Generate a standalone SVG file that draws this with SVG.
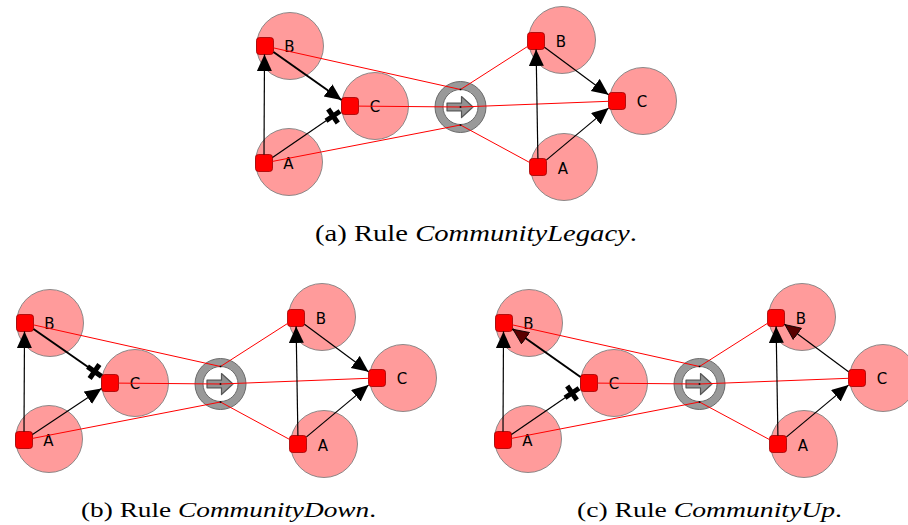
<svg xmlns="http://www.w3.org/2000/svg" width="908" height="525" viewBox="0 0 908 525">
<style>
.comm{fill:#ff9b9b;stroke:#808080;stroke-width:0.9}
.port{fill:#ff0000;stroke:#a00000;stroke-width:0.8}
.lbl{font-family:"DejaVu Sans",Verdana,sans-serif;font-size:15px;fill:#000;text-anchor:middle}
.ring{fill:#999999;stroke:#6a6a6a;stroke-width:1}
.hole{fill:#fff;stroke:#6a6a6a;stroke-width:1}
.rarrow{fill:#929292;stroke:#555;stroke-width:1.2;stroke-linejoin:round}
.dot{fill:#000}
.map{stroke:#ff0000;stroke-width:1;fill:none}
.e{stroke:#000;stroke-width:1.2;fill:none}
.thick{stroke-width:2}
.arr{marker-end:url(#arrow)}
.arrd{marker-end:url(#arrowDark)}
.neg{marker-end:url(#cross)}
.cap{font-family:"Liberation Serif","Times New Roman",serif;fill:#000}
</style>
<defs>
<marker id="arrow" markerUnits="userSpaceOnUse" markerWidth="17" markerHeight="16" viewBox="0 0 17 16" refX="16.5" refY="7.5" orient="auto">
<path d="M0,0 L16.5,7.5 L0,15 z" fill="#000"/>
</marker>
<marker id="arrowDark" markerUnits="userSpaceOnUse" markerWidth="17" markerHeight="16" viewBox="0 0 17 16" refX="16.5" refY="7.5" orient="auto">
<path d="M0.5,0.5 L16,7.5 L0.5,14.5 z" fill="#5a0000" stroke="#000" stroke-width="0.8"/>
</marker>
<marker id="cross" markerUnits="userSpaceOnUse" markerWidth="26" markerHeight="26" viewBox="-13 -13 26 26" refX="0" refY="0" orient="auto" overflow="visible">
<path d="M-8.5,0 L8.5,0 M0,-8.5 L0,8.5" stroke="#000" stroke-width="5" fill="none"/>
</marker>
</defs>
<rect width="908" height="525" fill="#fff"/>

<!-- Panel (a) -->
<g id="panel-a">
<g id="a-L-B" class="node"><circle class="comm" cx="290" cy="46" r="33.5"/><rect class="port" x="256.5" y="37.5" width="17" height="17" rx="3"/><text class="lbl" x="289.5" y="52">B</text></g>
<g id="a-L-C" class="node"><circle class="comm" cx="375" cy="106" r="33.5"/><rect class="port" x="341.5" y="97.5" width="17" height="17" rx="3"/><text class="lbl" x="375" y="112">C</text></g>
<g id="a-L-A" class="node"><circle class="comm" cx="289" cy="162" r="33.5"/><rect class="port" x="255.5" y="154.5" width="17" height="17" rx="3"/><text class="lbl" x="288.5" y="168.5">A</text></g>
<g id="a-rule" class="node"><circle class="ring" cx="460.5" cy="107" r="25.5"/><circle class="hole" cx="460.5" cy="107" r="17.5"/><path class="rarrow" d="M447,103.2 L461.5,103.2 L461.5,96.5 L473,107 L461.5,117.5 L461.5,110.8 L447,110.8 z"/></g>
<g id="a-R-B" class="node"><circle class="comm" cx="562" cy="40" r="33.5"/><rect class="port" x="527.5" y="32.5" width="17" height="17" rx="3"/><text class="lbl" x="561" y="47">B</text></g>
<g id="a-R-C" class="node"><circle class="comm" cx="643" cy="101" r="33.5"/><rect class="port" x="608.5" y="92.5" width="17" height="17" rx="3"/><text class="lbl" x="642" y="107">C</text></g>
<g id="a-R-A" class="node"><circle class="comm" cx="564" cy="167" r="33.5"/><rect class="port" x="529.5" y="158.5" width="17" height="17" rx="3"/><text class="lbl" x="563" y="173.5">A</text></g>
<g id="a-connectors">
<line class="map" x1="273.5" y1="47.9" x2="460.5" y2="89.5"/>
<line class="map" x1="358.5" y1="106.1" x2="460.5" y2="107"/>
<line class="map" x1="272.5" y1="161.4" x2="460.5" y2="125"/>
<line class="map" x1="460.5" y1="89.5" x2="527.5" y2="46.5"/>
<line class="map" x1="460.5" y1="107" x2="608.5" y2="101.3"/>
<line class="map" x1="460.5" y1="125" x2="529.5" y2="162.4"/>
<rect class="dot" x="459.7" y="88.7" width="1.6" height="1.6"/><rect class="dot" x="459.7" y="106.2" width="1.6" height="1.6"/><rect class="dot" x="459.7" y="124.2" width="1.6" height="1.6"/>
<line class="e arr" x1="264" y1="154.5" x2="264.5" y2="54.5"/>
<line class="e thick arr" x1="273.5" y1="52" x2="341.5" y2="100"/>
<line class="e neg" x1="272.5" y1="157.4" x2="333" y2="116"/>
<line class="e arr" x1="537.9" y1="158.5" x2="536.1" y2="49.5"/>
<line class="e arr" x1="544.5" y1="47.3" x2="608.5" y2="94.7"/>
<line class="e arr" x1="546.5" y1="159.9" x2="608.5" y2="108.1"/>
</g>
</g>

<!-- Panel (b) -->
<g id="panel-b" transform="translate(-240,277)">
<g id="b-L-B" class="node"><circle class="comm" cx="290" cy="46" r="33.5"/><rect class="port" x="256.5" y="37.5" width="17" height="17" rx="3"/><text class="lbl" x="289.5" y="52">B</text></g>
<g id="b-L-C" class="node"><circle class="comm" cx="375" cy="106" r="33.5"/><rect class="port" x="341.5" y="97.5" width="17" height="17" rx="3"/><text class="lbl" x="375" y="112">C</text></g>
<g id="b-L-A" class="node"><circle class="comm" cx="289" cy="162" r="33.5"/><rect class="port" x="255.5" y="154.5" width="17" height="17" rx="3"/><text class="lbl" x="288.5" y="168.5">A</text></g>
<g id="b-rule" class="node"><circle class="ring" cx="460.5" cy="107" r="25.5"/><circle class="hole" cx="460.5" cy="107" r="17.5"/><path class="rarrow" d="M447,103.2 L461.5,103.2 L461.5,96.5 L473,107 L461.5,117.5 L461.5,110.8 L447,110.8 z"/></g>
<g id="b-R-B" class="node"><circle class="comm" cx="562" cy="40" r="33.5"/><rect class="port" x="527.5" y="32.5" width="17" height="17" rx="3"/><text class="lbl" x="561" y="47">B</text></g>
<g id="b-R-C" class="node"><circle class="comm" cx="643" cy="101" r="33.5"/><rect class="port" x="608.5" y="92.5" width="17" height="17" rx="3"/><text class="lbl" x="642" y="107">C</text></g>
<g id="b-R-A" class="node"><circle class="comm" cx="564" cy="167" r="33.5"/><rect class="port" x="529.5" y="158.5" width="17" height="17" rx="3"/><text class="lbl" x="563" y="173.5">A</text></g>
<g id="b-connectors">
<line class="map" x1="273.5" y1="47.9" x2="460.5" y2="89.5"/>
<line class="map" x1="358.5" y1="106.1" x2="460.5" y2="107"/>
<line class="map" x1="272.5" y1="161.4" x2="460.5" y2="125"/>
<line class="map" x1="460.5" y1="89.5" x2="527.5" y2="46.5"/>
<line class="map" x1="460.5" y1="107" x2="608.5" y2="101.3"/>
<line class="map" x1="460.5" y1="125" x2="529.5" y2="162.4"/>
<rect class="dot" x="459.7" y="88.7" width="1.6" height="1.6"/><rect class="dot" x="459.7" y="106.2" width="1.6" height="1.6"/><rect class="dot" x="459.7" y="124.2" width="1.6" height="1.6"/>
<line class="e arr" x1="264" y1="154.5" x2="264.5" y2="54.5"/>
<line class="e thick neg" x1="273.5" y1="52" x2="334.5" y2="94.5"/>
<line class="e arr" x1="272.5" y1="157.4" x2="341.5" y2="111.6"/>
<line class="e arr" x1="537.9" y1="158.5" x2="536.1" y2="49.5"/>
<line class="e arr" x1="544.5" y1="47.3" x2="608.5" y2="94.7"/>
<line class="e arr" x1="546.5" y1="159.9" x2="608.5" y2="108.1"/>
</g>
</g>

<!-- Panel (c) -->
<g id="panel-c" transform="translate(239,277)">
<g id="c-L-B" class="node"><circle class="comm" cx="290" cy="46" r="33.5"/><rect class="port" x="256.5" y="37.5" width="17" height="17" rx="3"/><text class="lbl" x="289.5" y="52">B</text></g>
<g id="c-L-C" class="node"><circle class="comm" cx="375" cy="106" r="33.5"/><rect class="port" x="341.5" y="97.5" width="17" height="17" rx="3"/><text class="lbl" x="375" y="112">C</text></g>
<g id="c-L-A" class="node"><circle class="comm" cx="289" cy="162" r="33.5"/><rect class="port" x="255.5" y="154.5" width="17" height="17" rx="3"/><text class="lbl" x="288.5" y="168.5">A</text></g>
<g id="c-rule" class="node"><circle class="ring" cx="460.5" cy="107" r="25.5"/><circle class="hole" cx="460.5" cy="107" r="17.5"/><path class="rarrow" d="M447,103.2 L461.5,103.2 L461.5,96.5 L473,107 L461.5,117.5 L461.5,110.8 L447,110.8 z"/></g>
<g id="c-R-B" class="node"><circle class="comm" cx="563" cy="40" r="33.5"/><rect class="port" x="528.5" y="32.5" width="17" height="17" rx="3"/><text class="lbl" x="562" y="47">B</text></g>
<g id="c-R-C" class="node"><circle class="comm" cx="644" cy="101" r="33.5"/><rect class="port" x="609.5" y="92.5" width="17" height="17" rx="3"/><text class="lbl" x="643" y="107">C</text></g>
<g id="c-R-A" class="node"><circle class="comm" cx="565" cy="167" r="33.5"/><rect class="port" x="530.5" y="158.5" width="17" height="17" rx="3"/><text class="lbl" x="564" y="173.5">A</text></g>
<g id="c-connectors">
<line class="map" x1="273.5" y1="47.9" x2="460.5" y2="89.5"/>
<line class="map" x1="358.5" y1="106.1" x2="460.5" y2="107"/>
<line class="map" x1="272.5" y1="161.4" x2="460.5" y2="125"/>
<line class="map" x1="460.5" y1="89.5" x2="528.5" y2="46.3"/>
<line class="map" x1="460.5" y1="107" x2="609.5" y2="101.3"/>
<line class="map" x1="460.5" y1="125" x2="530.5" y2="162.6"/>
<rect class="dot" x="459.7" y="88.7" width="1.6" height="1.6"/><rect class="dot" x="459.7" y="106.2" width="1.6" height="1.6"/><rect class="dot" x="459.7" y="124.2" width="1.6" height="1.6"/>
<line class="e arr" x1="264" y1="154.5" x2="264.5" y2="54.5"/>
<line class="e thick arrd" x1="341.5" y1="100" x2="273.5" y2="52"/>
<line class="e neg" x1="272.5" y1="157.4" x2="333" y2="116"/>
<line class="e arr" x1="538.9" y1="158.5" x2="537.1" y2="49.5"/>
<line class="e arrd" x1="609.5" y1="94.7" x2="545.5" y2="47.3"/>
<line class="e arr" x1="547.5" y1="159.9" x2="609.5" y2="108.1"/>
</g>
</g>

<!-- Captions -->
<text class="cap" x="315" y="241" font-size="23" textLength="322" lengthAdjust="spacingAndGlyphs">(a) Rule <tspan font-style="italic">CommunityLegacy</tspan>.</text>
<text class="cap" x="81" y="517" font-size="22" textLength="295" lengthAdjust="spacingAndGlyphs">(b) Rule <tspan font-style="italic">CommunityDown</tspan>.</text>
<text class="cap" x="577" y="517" font-size="22" textLength="265" lengthAdjust="spacingAndGlyphs">(c) Rule <tspan font-style="italic">CommunityUp</tspan>.</text>
</svg>
